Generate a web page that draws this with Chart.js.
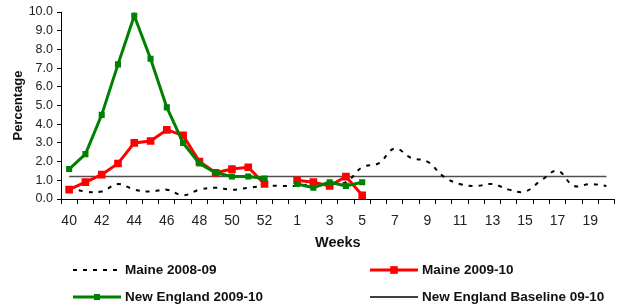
<!DOCTYPE html>
<html>
<head>
<meta charset="utf-8">
<script src="https://cdn.jsdelivr.net/npm/chart.js@4"></script>
<style>
  html, body { margin: 0; padding: 0; background: #fff; }
  #wrap { width: 620px; height: 308px; position: relative; }
</style>
</head>
<body>
<div id="wrap"><canvas id="fluChart"></canvas></div>
<script>
const weeks = ["40", "41", "42", "43", "44", "45", "46", "47", "48", "49", "50", "51", "52", "53",
  "1", "2", "3", "4", "5", "6", "7", "8", "9", "10", "11", "12", "13", "14", "15", "16", "17", "18", "19", "20"];

const maine0809 = [0.6, 0.4, 0.4, 0.8, 0.5, 0.4, 0.5, 0.2, 0.5, 0.6, 0.5, 0.6, 0.7, 0.7,
  0.7, 0.8, 0.8, 0.9, 1.7, 1.9, 2.7, 2.2, 2.0, 1.2, 0.8, 0.7, 0.8, 0.5, 0.4, 1.0, 1.5, 0.7, 0.8, 0.7];

const maine0910 = [0.5, 0.9, 1.3, 1.9, 3.0, 3.1, 3.7, 3.4, 2.0, 1.4, 1.6, 1.7, 0.8, null,
  1.0, 0.9, 0.7, 1.2, 0.2, null, null, null, null, null, null, null, null, null, null, null, null, null, null, null];

const newEngland0910 = [1.6, 2.4, 4.5, 7.2, 9.8, 7.5, 4.9, 3.0, 1.9, 1.4, 1.2, 1.2, 1.1, null,
  0.8, 0.6, 0.9, 0.7, 0.9, null, null, null, null, null, null, null, null, null, null, null, null, null, null, null];

const baseline0910 = [1.2, 1.2, 1.2, 1.2, 1.2, 1.2, 1.2, 1.2, 1.2, 1.2, 1.2, 1.2, 1.2, 1.2,
  1.2, 1.2, 1.2, 1.2, 1.2, 1.2, 1.2, 1.2, 1.2, 1.2, 1.2, 1.2, 1.2, 1.2, 1.2, 1.2, 1.2, 1.2, 1.2, 1.2];

const yTicks = [0, 1, 2, 3, 4, 5, 6, 7, 8, 9, 10];

const FONT = "Arial, 'Liberation Sans', sans-serif";

// legend drawn as a 2x2 grid like the original
const legendGrid = {
  id: "legendGrid",
  afterDraw(chart) {
    const { ctx } = chart;
    const slots = [
      { x: 73, y: 270 },
      { x: 370, y: 270 },
      { x: 73, y: 297 },
      { x: 370, y: 297 },
    ];
    ctx.save();
    chart.data.datasets.forEach((ds, i) => {
      const s = slots[i];
      const len = 48;
      ctx.beginPath();
      ctx.setLineDash(ds.borderDash || []);
      ctx.lineWidth = ds.borderWidth;
      ctx.strokeStyle = ds.legendColor || ds.borderColor;
      ctx.moveTo(s.x, s.y);
      ctx.lineTo(s.x + len, s.y);
      ctx.stroke();
      ctx.setLineDash([]);
      if (ds.pointRadius > 0) {
        const side = ds.pointRadius * Math.SQRT2;
        ctx.fillStyle = ds.pointBackgroundColor;
        ctx.fillRect(s.x + len / 2 - side / 2, s.y - side / 2, side, side);
      }
      ctx.fillStyle = "#111";
      ctx.font = "bold 13.5px " + FONT;
      ctx.textAlign = "left";
      ctx.textBaseline = "middle";
      ctx.fillText(ds.label, s.x + len + 4, s.y);
    });
    ctx.restore();
  }
};

new Chart(document.getElementById("fluChart").getContext("2d"), {
  type: "line",
  data: {
    labels: weeks,
    datasets: [
      {
        label: "Maine 2008-09",
        data: maine0809,
        borderColor: "#000",
        borderWidth: 2,
        borderDash: [4, 6],
        pointRadius: 0,
        tension: 0.4,
        order: 3
      },
      {
        label: "Maine 2009-10",
        data: maine0910,
        borderColor: "#ff0000",
        backgroundColor: "#ff0000",
        pointBackgroundColor: "#ff0000",
        pointBorderColor: "#ff0000",
        borderWidth: 3,
        pointStyle: "rect",
        pointRadius: 5.4,
        pointBorderWidth: 0,
        spanGaps: false,
        tension: 0,
        order: 2
      },
      {
        label: "New England 2009-10",
        data: newEngland0910,
        borderColor: "#008000",
        backgroundColor: "#008000",
        pointBackgroundColor: "#008000",
        pointBorderColor: "#008000",
        borderWidth: 3,
        pointStyle: "rect",
        pointRadius: 4.3,
        pointBorderWidth: 0,
        spanGaps: false,
        tension: 0,
        order: 1
      },
      {
        label: "New England Baseline 09-10",
        data: baseline0910,
        borderColor: "#505050",
        legendColor: "#000",
        borderWidth: 1.5,
        pointRadius: 0,
        tension: 0,
        order: 4
      }
    ]
  },
  plugins: [legendGrid],
  options: {
    responsive: true,
    maintainAspectRatio: false,
    animation: false,
    layout: { padding: { top: 12, right: 0, bottom: 56, left: 0 } },
    plugins: {
      legend: { display: false },
      tooltip: { enabled: false }
    },
    scales: {
      x: {
        offset: true,
        afterFit: scale => { scale.height = 53; },
        border: { display: true, color: "#000", width: 1 },
        grid: { display: true, offset: true, drawOnChartArea: false, drawTicks: true, tickLength: 5, color: "#000" },
        ticks: {
          autoSkip: false,
          maxRotation: 0,
          color: "#222",
          padding: 9,
          font: { family: FONT, size: 14 },
          callback: (value, index) => (index % 2 === 0 ? weeks[index] : "")
        },
        title: {
          display: true,
          text: "Weeks",
          color: "#111",
          font: { family: FONT, size: 14.5, weight: "bold" },
          padding: { top: 0, bottom: 0 }
        }
      },
      y: {
        min: 0,
        max: 10,
        afterFit: scale => { scale.width = 61; },
        afterBuildTicks: scale => { scale.ticks = yTicks.map(v => ({ value: v })); },
        border: { display: true, color: "#000", width: 1 },
        grid: { display: true, drawOnChartArea: false, drawTicks: true, tickLength: 4, color: "#000" },
        ticks: {
          color: "#222",
          padding: 4,
          font: { family: FONT, size: 12.5 },
          callback: value => Number(value).toFixed(1)
        },
        title: {
          display: true,
          text: "Percentage",
          color: "#111",
          font: { family: FONT, size: 13, weight: "bold" },
          padding: { top: 11, bottom: 0 }
        }
      }
    }
  }
});
</script>
</body>
</html>
